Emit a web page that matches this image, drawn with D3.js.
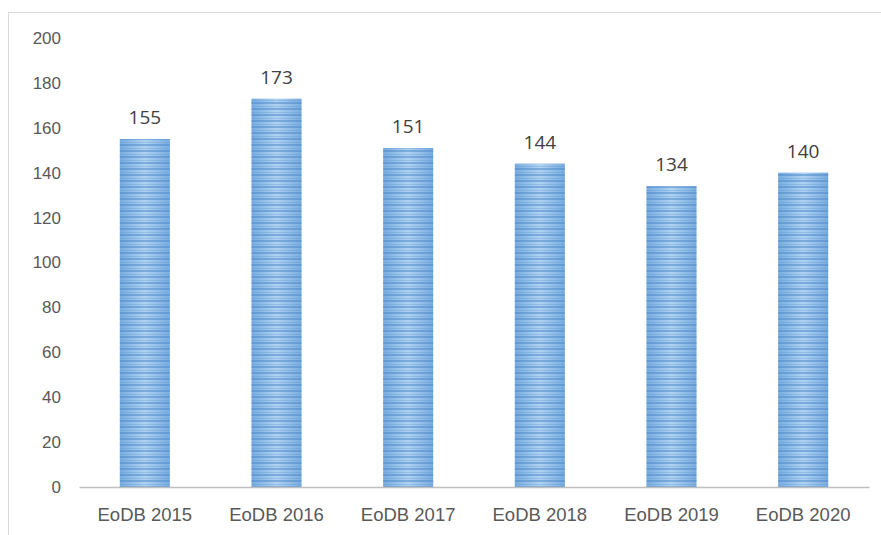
<!DOCTYPE html>
<html>
<head>
<meta charset="utf-8">
<script src="https://cdn.jsdelivr.net/npm/d3@7"></script>
<style>
  body { margin: 0; background: #fff; }
  svg { display: block; font-family: "Open Sans", "Liberation Sans", sans-serif; }
</style>
</head>
<body>
<script>
const w = 881,
  h = 535;

const categories = ['EoDB 2015', 'EoDB 2016', 'EoDB 2017', 'EoDB 2018', 'EoDB 2019', 'EoDB 2020'];
const values = [155, 173, 151, 144, 134, 140];
const yTicks = [0, 20, 40, 60, 80, 100, 120, 140, 160, 180, 200];

const svg = d3.select('body').append('svg').attr('width', w).attr('height', h);

// chart frame
svg.append('rect')
  .attr('x', 8.5).attr('y', 12.5)
  .attr('width', w + 10).attr('height', h + 10)
  .attr('fill', '#fff')
  .attr('stroke', '#d9d9d9');

const defs = svg.append('defs');
const grad = defs.append('linearGradient').attr('id', 'barGrad')
  .attr('x1', '0%').attr('x2', '100%').attr('y1', '0%').attr('y2', '0%');
grad.append('stop').attr('offset', '0%').attr('stop-color', '#78ace0');
grad.append('stop').attr('offset', '50%').attr('stop-color', '#b0d3f3');
grad.append('stop').attr('offset', '100%').attr('stop-color', '#78ace0');

// horizontal stripes over the gradient
const pat = defs.append('pattern').attr('id', 'stripes')
  .attr('patternUnits', 'userSpaceOnUse')
  .attr('width', 10).attr('height', 6);
pat.append('rect').attr('x', 0).attr('y', 0).attr('width', 10).attr('height', 2)
  .attr('fill', '#4a86c5').attr('opacity', 0.5);
pat.append('rect').attr('x', 0).attr('y', 4).attr('width', 10).attr('height', 1)
  .attr('fill', '#5b93cc').attr('opacity', 0.3);

const x = d3.scaleBand().domain(categories).range([79, 869]).paddingInner(0.62).paddingOuter(0.31);
const y = d3.scaleLinear().domain([0, 200]).range([487, 38]);

// y axis labels (no line)
const yAxis = d3.axisLeft(y).tickValues(yTicks).tickSize(0).tickPadding(0);
const yg = svg.append('g').attr('transform', 'translate(61,0)').call(yAxis);
yg.select('.domain').remove();
yg.selectAll('text').attr('fill', '#595959').style('font-size', '17px');

// bars
const bars = svg.append('g').selectAll('g').data(values).enter().append('g');
bars.append('rect')
  .attr('x', (d, i) => x(categories[i]))
  .attr('y', d => y(d))
  .attr('width', x.bandwidth())
  .attr('height', d => y(0) - y(d))
  .attr('fill', 'url(#barGrad)');
bars.append('rect')
  .attr('x', (d, i) => x(categories[i]))
  .attr('y', d => y(d))
  .attr('width', x.bandwidth())
  .attr('height', d => y(0) - y(d))
  .attr('fill', 'url(#stripes)');

// value labels
svg.append('g').selectAll('text').data(values).enter().append('text')
  .attr('x', (d, i) => x(categories[i]) + x.bandwidth() / 2)
  .attr('y', d => y(d) - 15)
  .attr('text-anchor', 'middle')
  .attr('fill', '#404040')
  .style('font-size', '19px')
  .text(d => d);

// x axis
const xAxis = d3.axisBottom(x).tickSize(0).tickPadding(21);
const xg = svg.append('g').attr('transform', `translate(0,${y(0)})`).call(xAxis);
xg.select('.domain').attr('stroke', '#bfbfbf').attr('stroke-width', 1.5);
xg.selectAll('text').attr('fill', '#595959').style('font-size', '18.5px');
</script>
</body>
</html>
